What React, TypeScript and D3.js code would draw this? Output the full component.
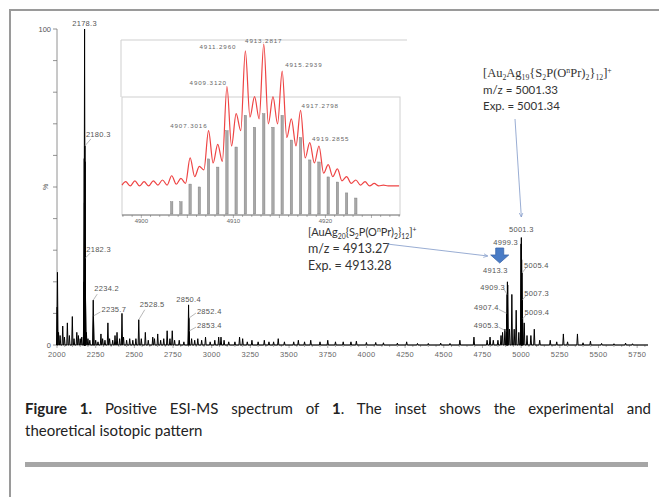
import React, { useRef, useEffect } from 'react';
import * as d3 from 'd3';

// main ESI-MS spectrum: m/z and relative intensity (%)
const peakMz = [
  2001, 2003, 2010, 2020, 2037, 2048, 2067, 2080, 2099, 2110, 2128, 2138, 2150, 2160,
  2174.3, 2176.3, 2177.3, 2178.3, 2180.3, 2181.3, 2182.3, 2184.3, 2190, 2200, 2212,
  2234.2, 2235.7, 2250, 2265, 2284, 2295, 2310, 2329, 2340, 2360, 2375, 2388, 2405,
  2420, 2430, 2450, 2470, 2490, 2510, 2528.5, 2545, 2571, 2590, 2619, 2630, 2651,
  2670, 2690, 2712, 2730, 2745, 2760, 2790, 2820, 2850.4, 2852.4, 2853.4, 2870, 2890,
  2910, 2935, 2960, 2990, 3020, 3045, 3060, 3080, 3110, 3150, 3180, 3200, 3230, 3260,
  3300, 3340, 3370, 3400, 3430, 3470, 3530, 3560, 3600, 3640, 3700, 3750, 3800, 3850,
  3900, 3935, 4000, 4060, 4110, 4200, 4260, 4330, 4400, 4480, 4540, 4604, 4695, 4780,
  4799, 4820, 4850, 4870, 4880, 4895, 4905.3, 4907.4, 4909.3, 4911.3, 4913.3, 4925,
  4940, 4955, 4968, 4985, 4999.3, 5001.3, 5003.3, 5005.4, 5007.3, 5009.4, 5020, 5038,
  5063, 5085, 5120, 5188, 5230, 5273, 5300, 5364, 5400, 5448, 5520, 5600, 5675, 5720,
];
const peakInt = [
  12, 23, 4, 3, 6, 2.5, 7, 3, 9, 2, 4, 3, 2, 2.5,
  20, 59, 45, 100, 63, 58, 27.5, 15, 4, 2, 1.5,
  14.2, 9.2, 1.5, 1, 3.5, 2, 1.5, 7, 2, 1.5, 3, 4, 2,
  10, 2.5, 1.5, 2, 1.5, 2, 8, 2, 4, 1.5, 2.5, 2, 3.5,
  1.5, 2, 4.5, 2, 4.5, 1.5, 1.5, 1, 12.7, 8.5, 4.4, 2, 1.5,
  2, 1.5, 2.5, 1, 1.5, 2.5, 2.5, 1.5, 1, 1, 2.5, 2, 1, 1.5,
  1, 1.5, 1, 1, 2, 1, 1, 1.5, 1, 1.5, 1, 1.5, 1, 1,
  1, 1.2, 0.8, 0.8, 0.7, 0.6, 1, 0.5, 0.5, 0.6, 0.5, 1.5, 2.5, 1.5,
  2.5, 1.5, 1.5, 3, 4, 5, 4.4, 10, 16, 20, 19, 5,
  16, 5, 11, 4, 32, 34, 27, 22.8, 14.2, 8.2, 7, 3,
  3, 5, 1.5, 1.5, 1, 3.5, 1, 3.5, 0.7, 1.2, 0.5, 0.4, 0.6, 0.4,
];

// labelled peaks
const peakLabels = [
  '2178.3', '2180.3', '2182.3', '2234.2', '2235.7', '2528.5', '2850.4', '2852.4', '2853.4',
  '4905.3', '4907.4', '4909.3', '4913.3', '4999.3', '5001.3', '5005.4', '5007.3', '5009.4',
];
const peakLabelMz = [
  2178.3, 2180.3, 2182.3, 2234.2, 2235.7, 2528.5, 2850.4, 2852.4, 2853.4,
  4905.3, 4907.4, 4909.3, 4913.3, 4999.3, 5001.3, 5005.4, 5007.3, 5009.4,
];
const peakLabelInt = [100, 63, 27.5, 14.2, 9.2, 8, 12.7, 8.5, 4.4, 4.4, 10, 16, 20, 32, 34, 22.8, 14.2, 8.2];

const xTickLabels = [2000, 2250, 2500, 2750, 3000, 3250, 3500, 3750, 4000, 4250, 4500, 4750, 5000, 5250, 5500, 5750];

// inset: experimental profile (peak tops and valleys) and theoretical sticks
const expMz = [
  4897.9, 4898.3, 4898.8, 4899.3, 4899.8, 4900.3, 4900.8, 4901.3, 4901.8, 4902.3, 4902.8,
  4903.3, 4903.8, 4904.3, 4904.8, 4905.3, 4905.8, 4906.3, 4906.8, 4907.3, 4907.8,
  4908.3, 4908.8, 4909.3, 4909.8, 4910.3, 4910.8, 4911.3, 4911.8, 4912.3, 4912.8,
  4913.3, 4913.8, 4914.3, 4914.8, 4915.3, 4915.8, 4916.3, 4916.8, 4917.3, 4917.8,
  4918.3, 4918.8, 4919.3, 4919.8, 4920.3, 4920.8, 4921.3, 4921.8, 4922.3, 4922.8,
  4923.3, 4923.8, 4924.3, 4924.8, 4925.3, 4925.8, 4926.3, 4926.8, 4927.3, 4928.0,
];
const expInt = [
  17, 19, 16.5, 19.5, 16.5, 19, 16.5, 19.5, 17, 20, 17,
  22.5, 17.5, 21, 18, 33, 22, 28, 26, 49, 30,
  41, 31, 75, 40, 59, 49, 96, 57, 69, 56,
  100, 53, 69, 53, 84, 45, 56, 40, 61, 33,
  42, 30, 40, 24, 29, 22, 26.5, 19.5, 22, 18,
  20, 17, 19, 16.5, 18, 16.5, 17, 16.5, 16.5, 16.5,
];
const theoMz = [
  4903.3, 4904.3, 4905.3, 4906.3, 4907.3, 4908.3, 4909.3, 4910.3, 4911.3, 4912.3, 4913.3,
  4914.3, 4915.3, 4916.3, 4917.3, 4918.3, 4919.3, 4920.3, 4921.3, 4922.3, 4923.3,
];
const theoInt = [7.2, 7.2, 17.6, 15.9, 32.4, 27.6, 49, 39.4, 58, 51, 59, 51, 58, 43.5, 45, 31.8, 30.6, 21.8, 18.8, 12.4, 9.4];

const insetLabels = ['4907.3016', '4909.3120', '4911.2960', '4913.2817', '4915.2939', '4917.2798', '4919.2855'];
const insetLabelMz = [4907.3, 4909.3, 4911.3, 4913.3, 4915.3, 4917.3, 4919.3];
const insetLabelInt = [49, 75, 96, 100, 84, 61, 40];
const insetTickLabels = [4900, 4910, 4920];

// label placement (leader end dx,dy; text dx,dy; anchor), relative to the peak top
const mainLabelPos: [number, number, number, number, string][] = [
  [0, 0, 0, -3, 'middle'],
  [6, -7, 1, -9, 'start'],
  [5, -5, 1, -6, 'start'],
  [4, -6, 1, -9, 'start'],
  [7, -4, 8, -4, 'start'],
  [6, -10, 1, -13, 'start'],
  [0, 0, 0, -3, 'middle'],
  [7, -5, 8, -4, 'start'],
  [7, -4, 8, -3, 'start'],
  [-8, -4, -8, -3, 'end'],
  [-8, -4, -8, -3, 'end'],
  [-3, -5, -2, -4, 'end'],
  [0, 0, 0, -9, 'end'],
  [0, 0, -3, 1, 'end'],
  [0, 0, 0, -6, 'middle'],
  [4, -5, 2, -5, 'start'],
  [4, -5, 2, -4, 'start'],
  [4, -5, 2, -4, 'start'],
];
const insetLabelPos: [number, number, string][] = [
  [-1, -3, 'end'],
  [0, -2, 'end'],
  [-9, -2, 'end'],
  [0, -1, 'middle'],
  [3, -4, 'start'],
  [1, -2, 'start'],
  [-7, -5, 'start'],
];

const W = 659;
const H = 497;
const labelFont = "'Liberation Sans', Arial, sans-serif";
const capFont = "Lato, 'Open Sans', sans-serif";

const sub = (t: string) => <tspan baselineShift={-2.5} fontSize="0.62em">{t}</tspan>;
const sup = (t: string) => <tspan baselineShift={4} fontSize="0.62em">{t}</tspan>;

const App = () => {
  const capRef = useRef<SVGTextElement>(null);

  // justify first caption line like the source document
  useEffect(() => {
    const t = capRef.current;
    if (!t) return;
    t.style.wordSpacing = '0px';
    const len = t.getComputedTextLength();
    t.style.wordSpacing = `${Math.max(0, (626 - len) / 12)}px`;
  }, []);

  // main scales
  const x = d3.scaleLinear().domain([2000, 5820]).range([57, 648]);
  const y = d3.scaleLinear().domain([0, 100]).range([345, 29]);

  // profile-like spectrum: narrow triangle for every peak
  const pts: [number, number][] = [[1996, 0]];
  peakMz.forEach((m, i) => {
    pts.push([m - 4, 0], [m, peakInt[i]], [m + 4, 0]);
  });
  pts.push([5820, 0]);
  const spectrum = d3.line<[number, number]>().x(d => x(d[0])).y(d => y(d[1]))(pts) || '';

  // inset scales
  const xi = d3.scaleLinear().domain([4897.9, 4928.1]).range([122, 400]);
  const yi = d3.scaleLinear().domain([0, 100]).range([214, 44]);
  const expLine = d3.line<number>()
    .x((d, i) => xi(expMz[i]))
    .y(d => yi(d))
    .curve(d3.curveMonotoneX)(expInt) || '';

  const axisColor = '#777';
  const textColor = '#555';

  // blue block arrow above the 4913 cluster
  const ax = x(4913.3) - 8;
  const blockArrow = `M${ax - 4},248 H${ax + 4} V255 H${ax + 9} L${ax},263 L${ax - 9},255 H${ax - 4} Z`;

  return (
    <svg width={W} height={H} style={{ position: 'absolute', left: 0, top: 0, background: '#fff' }}>
      <defs>
        <marker id="ah" viewBox="0 0 10 10" refX="9" refY="5" markerWidth="6" markerHeight="6" orient="auto">
          <path d="M0,1 L9,5 L0,9" fill="none" stroke="#7f98c8" strokeWidth="1.4" />
        </marker>
      </defs>
      <rect width={W} height={H} fill="#fff" />

      {/* page frame */}
      <path d={`M10,${H} V10 H${W}`} fill="none" stroke="#9a9a9a" strokeWidth={2} />

      {/* y axis */}
      <line x1={57} x2={57} y1={y(100)} y2={y(0)} stroke={axisColor} strokeWidth={0.8} />
      {d3.range(0, 101, 10).map(t => (
        <line key={t} x1={53} x2={57} y1={y(t)} y2={y(t)} stroke={axisColor} strokeWidth={0.8} />
      ))}
      <text x={51} y={y(100) + 3} textAnchor="end" fontFamily={labelFont} fontSize={7.5} fill={textColor}>100</text>
      <text x={51} y={y(0) + 3} textAnchor="end" fontFamily={labelFont} fontSize={7.5} fill={textColor}>0</text>
      <text transform={`translate(48,${y(50)}) rotate(-90)`} textAnchor="middle" fontFamily={labelFont} fontSize={7} fill={textColor}>%</text>

      {/* x axis */}
      <line x1={57} x2={648} y1={y(0)} y2={y(0)} stroke={axisColor} strokeWidth={0.8} />
      {d3.range(2000, 5801, 50).map(t => (
        <line key={t} x1={x(t)} x2={x(t)} y1={y(0)} y2={y(0) + (t % 250 === 0 ? 3 : 2)} stroke={axisColor} strokeWidth={0.6} />
      ))}
      {xTickLabels.map(t => (
        <text key={t} x={x(t)} y={357} textAnchor="middle" fontFamily={labelFont} fontSize={7.5} letterSpacing={0.3} fill="#666">{t}</text>
      ))}

      {/* spectrum */}
      <path d={spectrum} fill="none" stroke="#000" strokeWidth={1} strokeLinejoin="round" />

      {/* peak labels */}
      {peakLabels.map((lab, i) => {
        const px = x(peakLabelMz[i]);
        const py = y(peakLabelInt[i]);
        const [lx, ly, tx, ty, anchor] = mainLabelPos[i];
        return (
          <g key={lab}>
            {(lx !== 0 || ly !== 0) && (
              <line x1={px} y1={py} x2={px + lx} y2={py + ly} stroke="#888" strokeWidth={0.6} />
            )}
            <text x={px + tx} y={py + ty} textAnchor={anchor} fontFamily={labelFont} fontSize={7.5} letterSpacing={0.3} fill={textColor}>{lab}</text>
          </g>
        );
      })}

      {/* inset */}
      <rect x={121} y={40} width={286} height={175} fill="#fff" />
      <path d="M121,97 V40 H407" fill="none" stroke="#cfcfcf" strokeWidth={1} />
      <rect x={122} y={97} width={278} height={118} fill="none" stroke="#d0d0d0" strokeWidth={1} />
      {theoMz.map((m, i) => (
        <rect key={m} x={xi(m) - 1.2} y={yi(theoInt[i])} width={2.4} height={yi(0) - yi(theoInt[i])} fill="#a8a8a8" stroke="#777" strokeWidth={0.4} />
      ))}
      <path d={expLine} fill="none" stroke="#ee4444" strokeWidth={1.2} />
      <line x1={122} x2={400} y1={215} y2={215} stroke="#666" strokeWidth={0.8} />
      {d3.range(4898, 4929, 1).map(t => (
        <line key={t} x1={xi(t)} x2={xi(t)} y1={215} y2={t % 5 === 0 ? 218 : 217} stroke="#666" strokeWidth={0.5} />
      ))}
      {insetTickLabels.map(t => (
        <text key={t} x={xi(t)} y={223} textAnchor="middle" fontFamily={labelFont} fontSize={6} fill="#666">{t}</text>
      ))}
      {insetLabels.map((lab, i) => {
        const [tx, ty, anchor] = insetLabelPos[i];
        return (
          <text key={lab} x={xi(insetLabelMz[i]) + tx} y={yi(insetLabelInt[i]) + ty} textAnchor={anchor}
            fontFamily={labelFont} fontSize={6.2} letterSpacing={0.9} fill="#666">{lab}</text>
        );
      })}

      {/* annotation for the Au2Ag19 species */}
      <text x={483} y={77} fontFamily="'Liberation Serif', 'Times New Roman', serif" fontSize={12.5} fill="#333">
        [Au{sub('2')}Ag{sub('19')}{'{'}S{sub('2')}P(O{sup('n')}Pr){sub('2')}{'}'}{sub('12')}]{sup('+')}
      </text>
      <text x={483} y={94} fontFamily={capFont} fontSize={11.5} fill="#333">m/z = 5001.33</text>
      <text x={483} y={110} fontFamily={capFont} fontSize={11.5} fill="#333">Exp. = 5001.34</text>
      <line x1={515} y1={119} x2={x(5001.3)} y2={217} stroke="#7f98c8" strokeWidth={0.8} markerEnd="url(#ah)" />

      {/* annotation for the AuAg20 species */}
      <text x={308} y={236} fontFamily={capFont} fontSize={11} fill="#333">
        [AuAg{sub('20')}{'{'}S{sub('2')}P(O{sup('n')}Pr){sub('2')}{'}'}{sub('12')}]{sup('+')}
      </text>
      <text x={308} y={253} fontFamily={capFont} fontSize={12.5} fill="#333">m/z = 4913.27</text>
      <text x={308} y={270} fontFamily={capFont} fontSize={12.5} fill="#333">Exp. = 4913.28</text>
      <line x1={387} y1={244} x2={ax - 12} y2={256} stroke="#7f98c8" strokeWidth={0.8} markerEnd="url(#ah)" />
      <path d={blockArrow} fill="#4a7cc6" stroke="#3b66aa" strokeWidth={0.8} />

      {/* caption */}
      <text ref={capRef} x={25} y={414} fontFamily={capFont} fontSize={15} fill="#222">
        <tspan fontWeight="bold">Figure 1.</tspan>
        {' Positive ESI-MS spectrum of '}
        <tspan fontWeight="bold">1</tspan>
        {'. The inset shows the experimental and'}
      </text>
      <text x={25} y={436} fontFamily={capFont} fontSize={15} fill="#222">theoretical isotopic pattern</text>
      <rect x={25} y={462} width={623} height={5} fill="#a6a6a6" />
    </svg>
  );
};

export default App;
